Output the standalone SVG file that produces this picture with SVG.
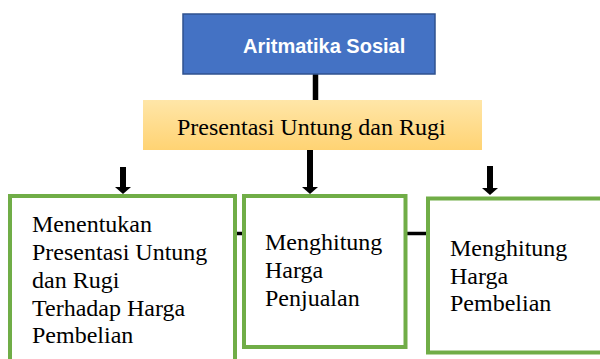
<svg xmlns="http://www.w3.org/2000/svg" width="600" height="359" viewBox="0 0 600 359">
<defs>
<linearGradient id="og" x1="0" y1="0" x2="0" y2="1">
<stop offset="0" stop-color="#FFE6A8"/>
<stop offset="1" stop-color="#FFD373"/>
</linearGradient>
<marker id="ah" markerUnits="userSpaceOnUse" markerWidth="10" markerHeight="18" refX="0" refY="8" viewBox="0 0 10 16" orient="auto" overflow="visible">
<path d="M0,0 L7,8 L0,16 z" fill="#000"/>
</marker>
<style>
.serif{font-family:"Liberation Serif","Times New Roman",serif;font-size:24px;fill:#000}
.green{fill:#fff;stroke:#70AD47;stroke-width:4}
.conn{stroke:#000;fill:none}
</style>
</defs>
<rect width="600" height="359" fill="#fff"/>
<g id="connectors">
<line class="conn" x1="315.5" y1="74" x2="315.5" y2="100" stroke-width="5.5"/>
<line class="conn" x1="310" y1="150" x2="310" y2="187" stroke-width="6" marker-end="url(#ah)"/>
<line class="conn" x1="123" y1="167" x2="123" y2="187" stroke-width="6" marker-end="url(#ah)"/>
<line class="conn" x1="490" y1="166" x2="490" y2="188" stroke-width="6" marker-end="url(#ah)"/>
<line class="conn" x1="237" y1="233.5" x2="242" y2="233.5" stroke-width="3.5"/>
<line class="conn" x1="407" y1="233.5" x2="426" y2="233.5" stroke-width="3.5"/>
</g>
<g id="node-aritmatika">
<rect x="183" y="14" width="252" height="60" fill="#4472C4" stroke="#2F528F" stroke-width="1.5"/>
<text x="243" y="53" font-family="'Liberation Sans',Arial,sans-serif" font-weight="bold" font-size="20" fill="#fff">Aritmatika Sosial</text>
</g>
<g id="node-presentasi">
<rect x="143" y="100" width="339" height="50" fill="url(#og)"/>
<text class="serif" x="177" y="135">Presentasi Untung dan Rugi</text>
</g>
<g id="node-menentukan">
<rect class="green" x="10" y="196" width="225" height="200"/>
<text class="serif" x="32" y="232.3">Menentukan</text>
<text class="serif" x="32" y="260.3">Presentasi Untung</text>
<text class="serif" x="32" y="287.8">dan Rugi</text>
<text class="serif" x="32" y="315.5">Terhadap Harga</text>
<text class="serif" x="32" y="342.7">Pembelian</text>
</g>
<g id="node-penjualan">
<rect class="green" x="244" y="196" width="161.5" height="151"/>
<text class="serif" x="265" y="250">Menghitung</text>
<text class="serif" x="265" y="278">Harga</text>
<text class="serif" x="265" y="305.5">Penjualan</text>
</g>
<g id="node-pembelian">
<rect class="green" x="428" y="198.5" width="200" height="154"/>
<text class="serif" x="450" y="256">Menghitung</text>
<text class="serif" x="450" y="284">Harga</text>
<text class="serif" x="450" y="311.3">Pembelian</text>
</g>
</svg>
